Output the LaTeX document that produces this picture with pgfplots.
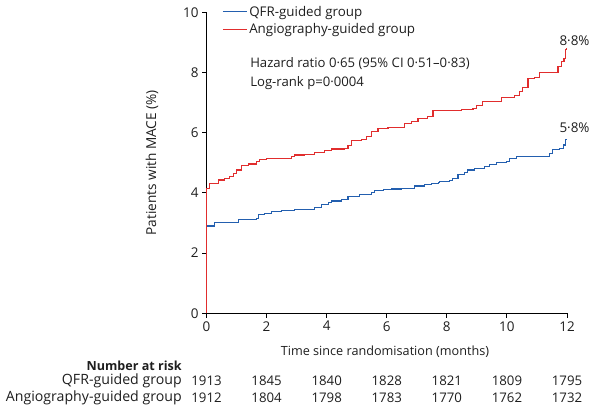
\documentclass[border=0pt]{standalone}
\usepackage{pgfplots}
\pgfplotsset{compat=1.18}
\usepackage{fontspec}
\setmainfont{Open Sans}
\definecolor{qfr}{RGB}{35,95,175}
\definecolor{ang}{RGB}{225,45,45}
\definecolor{txt}{RGB}{30,30,30}
\newcommand{\fs}{\fontsize{13}{15}\selectfont}
\tikzset{risk/.style={text=txt, font=\fontsize{13.3}{15}\selectfont, inner sep=0pt},
  rlab/.style={text=txt, font=\fontsize{14.2}{16}\selectfont, inner sep=0pt, anchor=east}}
\begin{document}
\begin{tikzpicture}[x=1bp,y=1bp]
\path[use as bounding box] (0,0) rectangle (597,410);
\begin{axis}[
  at={(206.5bp,96.7bp)}, anchor=south west,
  scale only axis, width=360.5bp, height=301bp,
  xmin=0, xmax=12, ymin=0, ymax=10,
  axis x line*=bottom, axis y line*=left,
  xtick={0,2,...,12}, ytick={0,2,...,10},
  tick align=outside, major tick length=4.5bp,
  tick style={black, line width=0.9pt},
  axis line style={black, line width=0.9pt, -},
  /pgf/number format/assume math mode=true,
  tick label style={font=\fontsize{13.5}{15}\selectfont, text=txt},
  label style={font=\fs, text=txt},
  xlabel={Time since randomisation (months)},
  xlabel style={at={(axis description cs:0.495,-0.1286)}, anchor=center, font=\fontsize{12.7}{15}\selectfont},
  ylabel={Patients with MACE (\%)},
  ylabel style={at={(axis description cs:-0.151,0.5)}, anchor=center, font=\fontsize{13.7}{15}\selectfont},
  clip=false,
  legend style={at={(axis description cs:0.043,1.028)}, anchor=north west, draw=none, fill=none,
    font=\fontsize{13.4}{15}\selectfont, text=txt, row sep=2bp, inner sep=0pt, cells={anchor=west}},
  legend image code/.code={\draw[#1, line width=1.1pt] (0bp,0bp) -- (24bp,0bp);},
]
\addplot[const plot, qfr, line width=1.1pt] coordinates {
(0,0) (0,2.88) (0.05,2.9) (0.28,3.01) (1.05,3.12) (1.66,3.16) (1.72,3.27) (1.94,3.32) (2.16,3.38)
(2.5,3.41) (2.94,3.46) (3.6,3.52) (3.83,3.6) (4.05,3.68) (4.16,3.73) (4.49,3.79) (4.71,3.88)
(5.1,3.95) (5.49,4.01) (5.6,4.08) (5.88,4.1) (6.15,4.13) (6.5,4.15) (6.93,4.23) (7.26,4.29)
(7.49,4.32) (7.71,4.34) (7.76,4.37) (8.1,4.4) (8.2,4.48) (8.37,4.6) (8.6,4.67) (8.7,4.76)
(8.93,4.82) (9.26,4.87) (9.43,4.95) (9.65,5.01) (9.98,5.04) (10.09,5.15) (10.31,5.2)
(11.43,5.32) (11.53,5.43) (11.76,5.48) (11.87,5.59) (11.94,5.76) (11.98,5.8)};
\addlegendentry{QFR-guided group}
\addplot[const plot, ang, line width=1.1pt] coordinates {
(0,0) (0,4.15) (0.1,4.32) (0.39,4.43) (0.6,4.48) (0.78,4.54) (0.89,4.65) (1.0,4.76) (1.16,4.9)
(1.39,4.96) (1.66,5.04) (1.77,5.12) (2.0,5.15) (2.83,5.2) (2.94,5.26) (3.27,5.29) (3.6,5.35)
(3.94,5.4) (4.16,5.46) (4.6,5.48) (4.71,5.57) (4.82,5.74) (5.16,5.78) (5.32,5.87) (5.49,6.04)
(5.71,6.15) (6.04,6.17) (6.6,6.31) (6.82,6.37) (7.04,6.48) (7.37,6.53) (7.54,6.73) (8.48,6.78)
(8.87,6.81) (8.98,6.89) (9.2,7.03) (9.7,7.05) (9.81,7.18) (10.26,7.25) (10.42,7.36) (10.53,7.51)
(10.7,7.81) (10.92,7.84) (11.09,8.0) (11.7,8.19) (11.81,8.36) (11.9,8.47) (11.94,8.75) (11.98,8.8)};
\addlegendentry{Angiography-guided group}
\node[anchor=west, align=left, text=txt, font=\fontsize{13.2}{19}\selectfont, inner sep=0pt]
  at (axis cs:1.45,7.95) {Hazard ratio 0·65 (95\% CI 0·51–0·83)\\Log-rank p=0·0004};
\node[text=txt, font=\fontsize{13.5}{15}\selectfont] at (axis cs:12.25,9.05) {8·8\%};
\node[text=txt, font=\fontsize{13.5}{15}\selectfont] at (axis cs:12.25,6.15) {5·8\%};
\node[anchor=east, text=txt, font=\bfseries\fontsize{12.6}{15}\selectfont, inner sep=0pt] at (axis cs:-0.82,-1.75) {Number at risk};
\node[rlab] at (axis cs:-0.82,-2.25) {QFR-guided group};
\node[rlab] at (axis cs:-0.82,-2.81) {Angiography-guided group};
\node[risk] at (axis cs:0,-2.25) {1913};
\node[risk] at (axis cs:2,-2.25) {1845};
\node[risk] at (axis cs:4,-2.25) {1840};
\node[risk] at (axis cs:6,-2.25) {1828};
\node[risk] at (axis cs:8,-2.25) {1821};
\node[risk] at (axis cs:10,-2.25) {1809};
\node[risk] at (axis cs:12,-2.25) {1795};
\node[risk] at (axis cs:0,-2.81) {1912};
\node[risk] at (axis cs:2,-2.81) {1804};
\node[risk] at (axis cs:4,-2.81) {1798};
\node[risk] at (axis cs:6,-2.81) {1783};
\node[risk] at (axis cs:8,-2.81) {1770};
\node[risk] at (axis cs:10,-2.81) {1762};
\node[risk] at (axis cs:12,-2.81) {1732};
\end{axis}
\end{tikzpicture}
\end{document}
